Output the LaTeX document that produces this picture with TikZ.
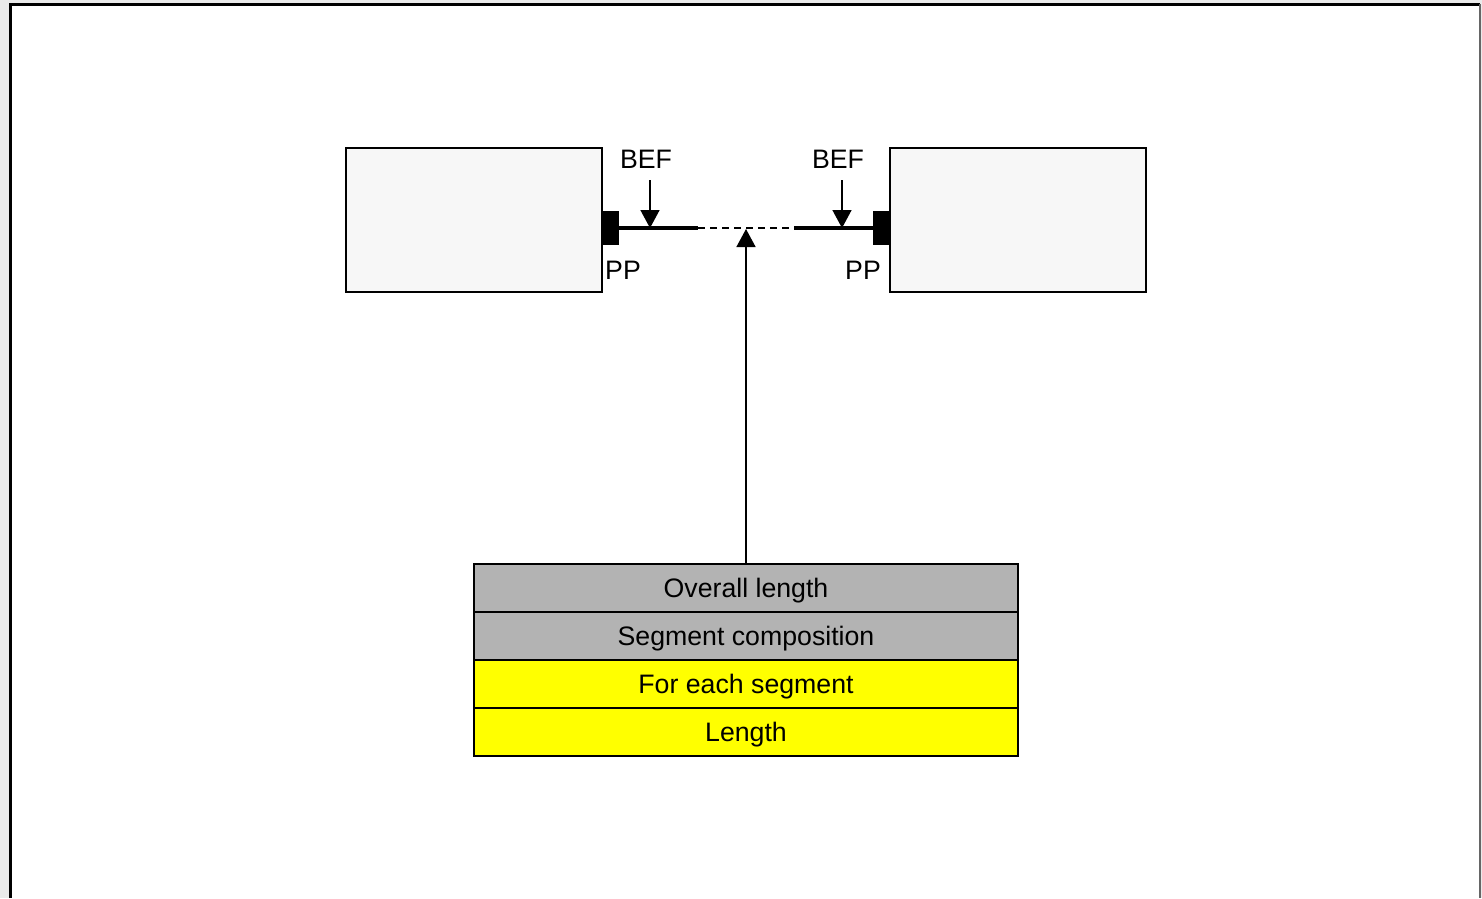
\documentclass[tikz,border=0pt]{standalone}
\usepackage{fontspec}
\setmainfont{Liberation Sans}
\usetikzlibrary{arrows.meta}
\definecolor{bggray}{HTML}{EAEAEA}
\definecolor{boxfill}{HTML}{F7F7F7}
\definecolor{rowgray}{HTML}{B3B3B3}
\definecolor{rowyellow}{HTML}{FFFF00}
\begin{document}
\begin{tikzpicture}[x=1pt,y=-1pt,
  lbl/.style={font=\fontsize{26.7}{30}\selectfont, inner sep=0pt},
  dev/.style={draw=black, line width=1.5pt, fill=boxfill},
  blk/.style={fill=black},
  row/.style={draw=black, line width=1.5pt, minimum width=544pt, minimum height=48pt, inner sep=0pt, outer sep=0pt, text height=22pt, text depth=4pt, font=\fontsize{26.7}{30}\selectfont},
  arr/.style={-{Triangle[length=18pt,width=19pt]}, line width=1.5pt}
]
\useasboundingbox (0,0) rectangle (1482,898);
\fill[bggray] (0,0) rectangle (1482,898);
\fill[white] (10,4) rectangle (1480,898);
\draw[black, line width=3pt] (10,898) -- (10,4) -- (1480,4);
\draw[gray!80!black, line width=2pt] (1480,4) -- (1480,898);
% devices
\draw[dev] (346,148) rectangle (602,292);
\draw[dev] (890,148) rectangle (1146,292);
\fill[blk] (602,211) rectangle (619,245);
\fill[blk] (873,211) rectangle (890,245);
\coordinate (Lend) at (698,228);
\coordinate (Rend) at (794,228);
\draw[line width=4.5pt] (619,228) -- (Lend);
\draw[line width=4.5pt] (Rend) -- (873,228);
\draw[line width=1.2pt, dash pattern=on 7pt off 5pt] (Lend) -- (Rend);
% BEF
\node[lbl] (bef1) at (646,159) {BEF};
\node[lbl] (bef2) at (838,159) {BEF};
\coordinate (t1) at (650,228);
\coordinate (t2) at (842,228);
\draw[arr] (650,180) -- (t1);
\draw[arr] (842,180) -- (t2);
% PP
\node[lbl, anchor=west] (pp1) at (605,270) {PP};
\node[lbl, anchor=east] (pp2) at (881,270) {PP};
% table
\node[row, fill=rowgray] (r1) at (746,588) {Overall length};
\node[row, fill=rowgray, anchor=north] (r2) at (r1.south) {Segment composition};
\node[row, fill=rowyellow, anchor=north] (r3) at (r2.south) {For each segment};
\node[row, fill=rowyellow, anchor=north] (r4) at (r3.south) {Length};
\coordinate (tip) at (746,229);
\draw[arr] (r1.north) -- (tip);
\end{tikzpicture}
\end{document}
